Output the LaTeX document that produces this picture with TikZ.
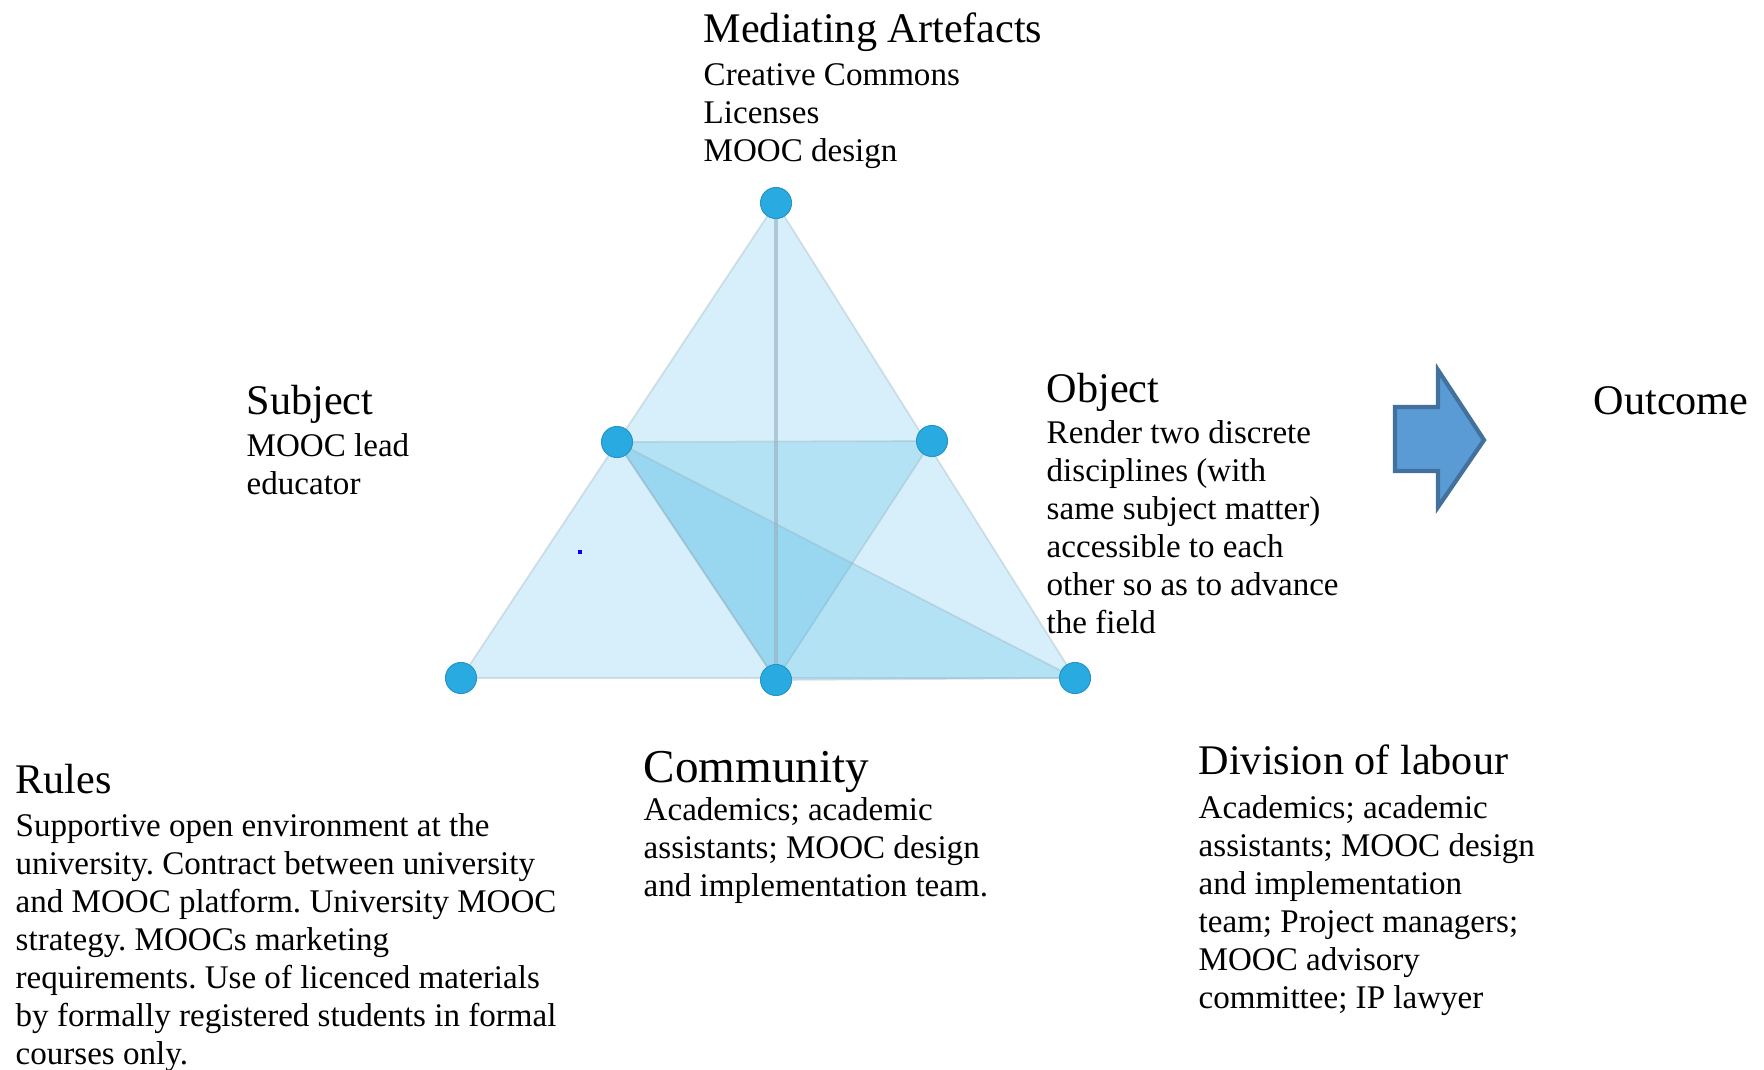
\documentclass[tikz,border=0pt]{standalone}
\usepackage{fontspec}
\setmainfont{Liberation Serif}
\frenchspacing
\definecolor{dotblue}{RGB}{41,171,226}
\definecolor{dotrim}{RGB}{38,150,200}
\definecolor{facetline}{RGB}{150,175,188}
\definecolor{arrowfill}{RGB}{91,155,213}
\definecolor{arrowrim}{RGB}{65,113,156}
\tikzset{%
  vertex/.style   = {circle, fill=dotblue, draw=dotrim, line width=0.3pt,%
                     inner sep=0pt, minimum size=0.31cm},%
  facet/.style    = {fill=dotblue, fill opacity=0.2,%
                     draw=facetline, draw opacity=0.35, line width=0.5pt},%
  heading/.style  = {anchor=base west, inner sep=0pt, font=\fontsize{12}{14}\selectfont},%
  bodytext/.style = {anchor=north west, inner sep=0pt, align=left,%
                     font=\fontsize{9.4}{10.8}\selectfont}%
}

\begin{document}
\begin{tikzpicture}[x=0.01cm, y=-0.01cm]
  \useasboundingbox (0,0) rectangle (1764,1070);
  % corners and mid points of the triangle
  \coordinate (T)  at (776,203);
  \coordinate (S)  at (617,442);
  \coordinate (O)  at (932,441);
  \coordinate (BL) at (461,678);
  \coordinate (BM) at (776,680);
  \coordinate (BR) at (1075,678);
  % shaded facets
  \filldraw[facet, fill opacity=0.19] (BL) -- (T) -- (BR) -- cycle;
  \filldraw[facet] (S) -- (O) -- (BM) -- cycle;
  \filldraw[facet] (S) -- (BM) -- (BR) -- cycle;
  \draw[facetline, line width=0.9pt, opacity=0.6] (T) -- (BM);
  \fill[blue] (578,550) rectangle (582,554);
  \foreach \v in {T,S,O,BL,BM,BR}
    \node[vertex] (dot\v) at (\v) {};

  \node[heading] (medhead) at (703,43) {Mediating Artefacts};
  \node[bodytext] (medtext) at (703,63) {Creative Commons\\Licenses\\MOOC design};

  \node[heading] (subjhead) at (246,414) {Subject};
  \node[bodytext] (subjtext) at (246,433) {MOOC lead\\educator};

  \node[heading] (objhead) at (1046,402) {Object};
  \node[bodytext] (objtext) at (1046,420) {Render two discrete\\disciplines (with\\%
    same subject matter)\\accessible to each\\other so as to advance\\the field};

  % arrow towards the outcome
  \filldraw[fill=arrowfill, draw=arrowrim, line width=1.2pt]
    (1395,407) -- (1438,407) -- (1438,370) -- (1484,440) -- (1438,507)
    -- (1438,471) -- (1395,471) -- cycle;
  \node[heading] (outhead) at (1593,414) {Outcome};

  \node[heading] (rulhead) at (15,793) {Rules};
  \node[bodytext] (rultext) at (15,813) {Supportive open environment at the\\%
    university. Contract between university\\and MOOC platform. University MOOC\\%
    strategy. MOOCs marketing\\requirements. Use of licenced materials\\%
    by formally registered students in formal\\courses only.};

  \node[heading, font=\fontsize{13.4}{16}\selectfont] (comhead) at (643,782) {Community};
  \node[bodytext] (comtext) at (643,797) {Academics; academic\\assistants; MOOC design\\%
    and implementation team.};

  \node[heading] (divhead) at (1198,774) {Division of labour};
  \node[bodytext] (divtext) at (1198,795) {Academics; academic\\assistants; MOOC design\\%
    and implementation\\team; Project managers;\\MOOC advisory\\committee; IP lawyer};
\end{tikzpicture}
\end{document}
